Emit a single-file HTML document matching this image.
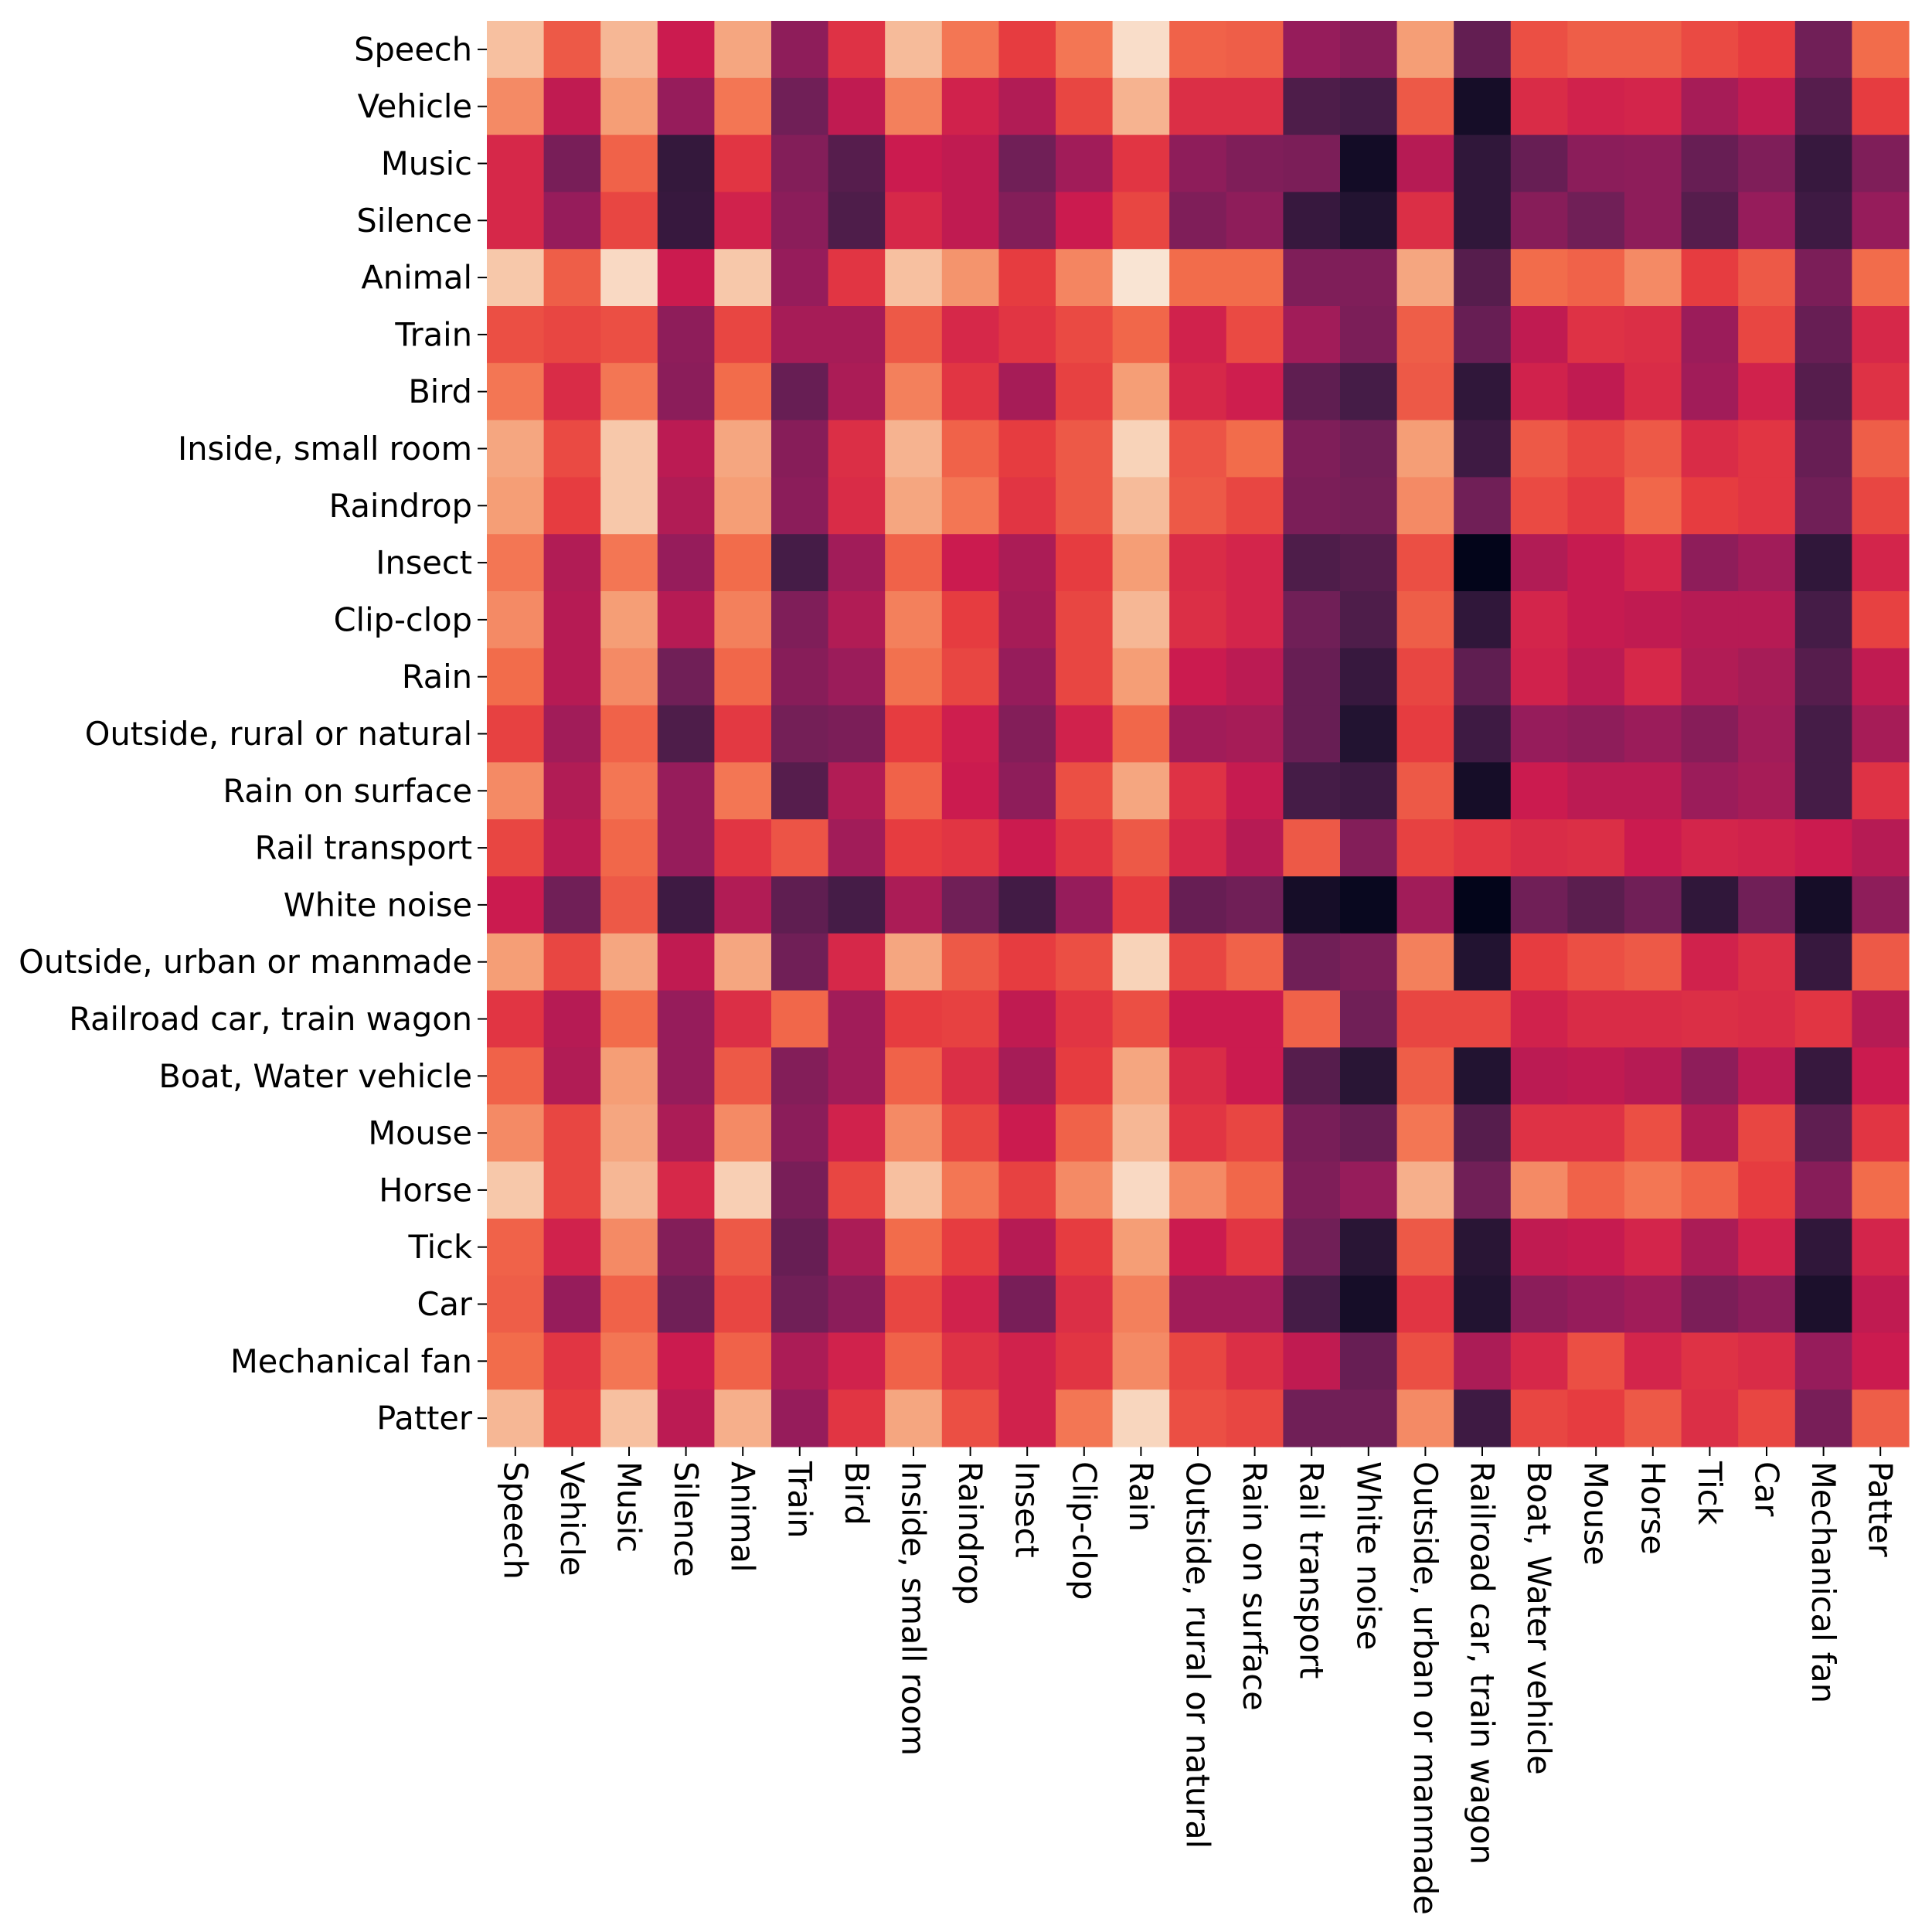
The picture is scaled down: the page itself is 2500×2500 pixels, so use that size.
<!DOCTYPE html>
<html><head><meta charset="utf-8"><style>html,body{margin:0;padding:0;background:#fff}svg{display:block}</style></head>
<body>
<svg id="chart" width="2500" height="2500" xmlns="http://www.w3.org/2000/svg"></svg>
<script>
const categories = ["Speech","Vehicle","Music","Silence","Animal","Train","Bird","Inside, small room","Raindrop","Insect","Clip-clop","Rain","Outside, rural or natural","Rain on surface","Rail transport","White noise","Outside, urban or manmade","Railroad car, train wagon","Boat, Water vehicle","Mouse","Horse","Tick","Car","Mechanical fan","Patter"];
const rowSpeech=[.88,.66,.86,.5,.82,.38,.57,.87,.72,.6,.72,.96,.68,.67,.4,.36,.8,.27,.64,.67,.67,.63,.6,.3,.7];
const rowVehicle=[.76,.48,.8,.4,.72,.3,.48,.74,.52,.45,.62,.85,.56,.56,.22,.2,.66,.06,.55,.52,.53,.43,.48,.24,.6];
const rowMusic=[.54,.32,.68,.15,.58,.35,.24,.5,.48,.3,.42,.58,.38,.34,.33,.05,.46,.14,.28,.37,.38,.28,.34,.16,.34];
const rowSilence=[.54,.4,.62,.16,.52,.37,.22,.54,.48,.35,.5,.62,.34,.38,.16,.1,.56,.14,.36,.3,.38,.24,.4,.18,.4];
const rowAnimal=[.9,.67,.95,.5,.9,.4,.58,.88,.78,.6,.75,.98,.7,.7,.34,.34,.82,.24,.7,.68,.76,.6,.66,.33,.7];
const rowTrain=[.64,.62,.64,.38,.62,.43,.43,.66,.54,.58,.63,.69,.52,.63,.42,.33,.67,.28,.48,.57,.56,.41,.62,.28,.54];
const rowBird=[.72,.55,.72,.37,.7,.28,.44,.74,.58,.43,.61,.8,.54,.51,.26,.2,.66,.14,.52,.48,.55,.42,.52,.24,.57];
const rowInside=[.82,.63,.9,.47,.82,.36,.56,.85,.68,.6,.66,.93,.65,.7,.34,.3,.8,.18,.66,.62,.66,.55,.58,.28,.67];
const rowRaindrop=[.8,.6,.9,.45,.8,.37,.55,.82,.72,.58,.66,.87,.66,.62,.33,.31,.76,.3,.63,.59,.69,.6,.58,.3,.62];
const rowInsect=[.72,.45,.72,.4,.7,.2,.42,.68,.5,.44,.6,.8,.55,.53,.22,.24,.64,0,.45,.49,.53,.38,.42,.14,.53];
const rowClipclop=[.76,.46,.8,.46,.74,.34,.45,.74,.6,.43,.62,.86,.56,.53,.3,.22,.67,.14,.53,.49,.48,.46,.46,.2,.61];
const rowRain=[.7,.46,.76,.3,.69,.36,.41,.71,.62,.4,.62,.8,.5,.47,.28,.16,.62,.26,.52,.47,.54,.45,.43,.24,.48];
const rowOutRural=[.61,.42,.68,.22,.59,.31,.33,.6,.51,.35,.52,.69,.42,.43,.28,.1,.6,.18,.4,.38,.41,.36,.42,.2,.43];
const rowRainSurface=[.76,.45,.72,.4,.72,.24,.45,.68,.5,.38,.64,.82,.57,.49,.2,.18,.66,.06,.5,.47,.47,.41,.43,.2,.57];
const rowRailTransport=[.62,.47,.69,.4,.58,.65,.42,.6,.58,.5,.58,.66,.54,.46,.66,.35,.61,.58,.55,.56,.5,.53,.52,.5,.46];
const rowWhiteNoise=[.5,.3,.66,.18,.45,.26,.2,.44,.3,.19,.4,.6,.28,.3,.06,.02,.42,0,.3,.25,.3,.14,.3,.06,.38];
const rowOutUrban=[.8,.62,.82,.48,.82,.3,.54,.82,.66,.6,.64,.93,.62,.68,.3,.33,.74,.1,.6,.64,.66,.52,.56,.16,.66];
const rowRailroadCar=[.58,.46,.7,.4,.56,.69,.42,.6,.61,.48,.58,.64,.5,.5,.68,.3,.62,.62,.52,.55,.55,.56,.55,.58,.46];
const rowBoat=[.68,.45,.8,.4,.66,.35,.42,.68,.56,.43,.6,.82,.55,.5,.24,.12,.67,.1,.47,.48,.46,.38,.47,.16,.5];
const rowMouse=[.76,.62,.82,.44,.76,.37,.52,.76,.62,.5,.68,.86,.58,.62,.32,.28,.72,.24,.57,.57,.64,.45,.62,.26,.58];
const rowHorse=[.9,.62,.86,.54,.92,.32,.62,.88,.72,.61,.76,.95,.76,.69,.34,.4,.84,.3,.76,.68,.72,.68,.6,.36,.7];
const rowTick=[.68,.52,.76,.35,.66,.28,.44,.7,.6,.46,.6,.8,.5,.58,.3,.12,.66,.12,.48,.49,.53,.44,.52,.14,.53];
const rowCar=[.67,.4,.68,.3,.62,.3,.37,.62,.52,.32,.56,.74,.42,.42,.2,.06,.58,.1,.37,.4,.42,.33,.37,.08,.48];
const rowMechFan=[.7,.58,.72,.5,.68,.44,.52,.68,.57,.52,.58,.76,.62,.56,.48,.28,.64,.44,.54,.64,.53,.57,.55,.4,.5];
const rowPatter=[.86,.6,.88,.47,.84,.4,.58,.82,.64,.52,.72,.94,.64,.62,.3,.3,.76,.18,.62,.6,.66,.56,.62,.32,.67];
const values=[rowSpeech,rowVehicle,rowMusic,rowSilence,rowAnimal,rowTrain,rowBird,rowInside,rowRaindrop,rowInsect,rowClipclop,rowRain,rowOutRural,rowRainSurface,rowRailTransport,rowWhiteNoise,rowOutUrban,rowRailroadCar,rowBoat,rowMouse,rowHorse,rowTick,rowCar,rowMechFan,rowPatter];

const NS="http://www.w3.org/2000/svg";
const svg=document.getElementById('chart');
const L=630,T=27,W=1840,H=1845;
const n=categories.length;
const cw=W/n,ch=H/n;
const xScale=i=>L+i*cw;
const yScale=i=>T+i*ch;
const stops=[[0,[3,5,26]],[0.1,[34,19,49]],[0.2,[69,28,71]],[0.3,[112,31,87]],[0.4,[150,28,91]],[0.5,[203,27,79]],[0.6,[230,60,64]],[0.7,[242,108,75]],[0.8,[245,158,118]],[0.9,[247,200,170]],[1,[250,235,221]]];
function color(v){v=Math.max(0,Math.min(1,v));for(let k=1;k<stops.length;k++){if(v<=stops[k][0]){const a=stops[k-1],b=stops[k];const t=(v-a[0])/(b[0]-a[0]);const c=a[1].map((x,j)=>Math.round(x+(b[1][j]-x)*t));return `rgb(${c[0]},${c[1]},${c[2]})`;}}return 'rgb(250,235,221)';}
function mk(tag,attrs){const e=document.createElementNS(NS,tag);for(const k in attrs)e.setAttribute(k,attrs[k]);svg.appendChild(e);return e;}
for(let r=0;r<n;r++){for(let c=0;c<n;c++){
  const e=mk('rect',{x:xScale(c),y:yScale(r),width:cw+0.6,height:ch+0.6,fill:color(values[r][c])});
  
  
}}
const font='font-family:"DejaVu Sans","Liberation Sans",sans-serif;font-size:41.5px;fill:#000';
for(let i=0;i<n;i++){
  const yc=yScale(i)+ch/2;
  const t=mk('line',{x1:L-12,x2:L,y1:yc,y2:yc,stroke:'#000','stroke-width':2});
  
  
  const lb=mk('text',{x:L-19,y:yc,'text-anchor':'end','dominant-baseline':'central',style:font});
  lb.textContent=categories[i];
  
  
  const xc=xScale(i)+cw/2;
  const t2=mk('line',{x1:xc,x2:xc,y1:T+H,y2:T+H+12,stroke:'#000','stroke-width':2});
  
  
  const ly=T+H+19;
  const lx=mk('text',{x:xc,y:ly,'text-anchor':'start','dominant-baseline':'central',transform:`rotate(90 ${xc} ${ly})`,style:font});
  lx.textContent=categories[i];
  
  
}
</script>
</body></html>
